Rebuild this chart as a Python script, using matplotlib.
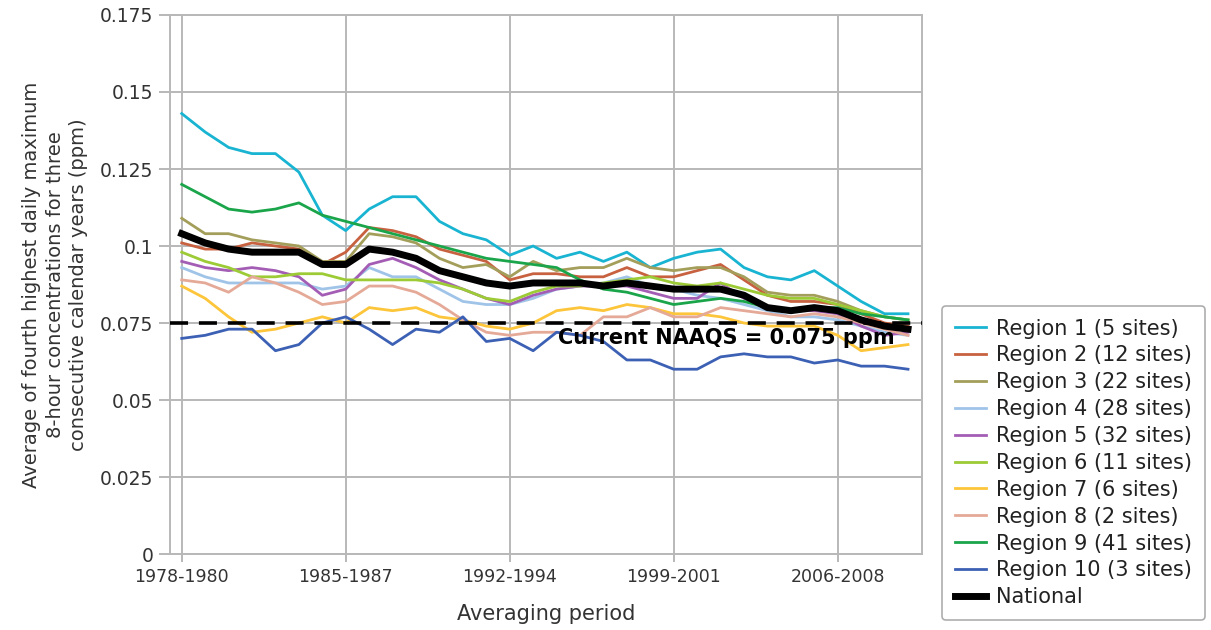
import matplotlib.pyplot as plt

# Three-year averaging periods, 1978-1980 through 2009-2011
start_years = list(range(1978, 2010))
periods = [f"{y}-{y + 2}" for y in start_years]

region1 = [0.143, 0.137, 0.132, 0.130, 0.130, 0.124, 0.110, 0.105, 0.112, 0.116,
           0.116, 0.108, 0.104, 0.102, 0.097, 0.100, 0.096, 0.098, 0.095, 0.098,
           0.093, 0.096, 0.098, 0.099, 0.093, 0.090, 0.089, 0.092, 0.087, 0.082,
           0.078, 0.078]
region2 = [0.101, 0.099, 0.099, 0.101, 0.100, 0.099, 0.094, 0.098, 0.106, 0.105,
           0.103, 0.099, 0.097, 0.095, 0.089, 0.091, 0.091, 0.090, 0.090, 0.093,
           0.090, 0.090, 0.092, 0.094, 0.089, 0.084, 0.082, 0.082, 0.081, 0.078,
           0.075, 0.074]
region3 = [0.109, 0.104, 0.104, 0.102, 0.101, 0.100, 0.095, 0.095, 0.104, 0.103,
           0.101, 0.096, 0.093, 0.094, 0.090, 0.095, 0.092, 0.093, 0.093, 0.096,
           0.093, 0.092, 0.093, 0.093, 0.090, 0.085, 0.084, 0.084, 0.082, 0.079,
           0.077, 0.076]
region4 = [0.093, 0.090, 0.088, 0.088, 0.088, 0.088, 0.086, 0.087, 0.093, 0.090,
           0.090, 0.086, 0.082, 0.081, 0.081, 0.083, 0.086, 0.087, 0.088, 0.090,
           0.087, 0.086, 0.084, 0.083, 0.081, 0.079, 0.077, 0.077, 0.076, 0.074,
           0.072, 0.071]
region5 = [0.095, 0.093, 0.092, 0.093, 0.092, 0.090, 0.084, 0.086, 0.094, 0.096,
           0.093, 0.089, 0.086, 0.083, 0.081, 0.084, 0.086, 0.087, 0.087, 0.087,
           0.085, 0.083, 0.083, 0.088, 0.083, 0.080, 0.079, 0.079, 0.078, 0.074,
           0.071, 0.072]
region6 = [0.098, 0.095, 0.093, 0.090, 0.090, 0.091, 0.091, 0.089, 0.089, 0.089,
           0.089, 0.088, 0.086, 0.083, 0.082, 0.085, 0.087, 0.087, 0.088, 0.089,
           0.090, 0.088, 0.087, 0.088, 0.086, 0.084, 0.083, 0.083, 0.081, 0.079,
           0.077, 0.076]
region7 = [0.087, 0.083, 0.077, 0.072, 0.073, 0.075, 0.077, 0.075, 0.080, 0.079,
           0.080, 0.077, 0.076, 0.074, 0.073, 0.075, 0.079, 0.080, 0.079, 0.081,
           0.080, 0.078, 0.078, 0.077, 0.075, 0.074, 0.074, 0.074, 0.071, 0.066,
           0.067, 0.068]
region8 = [0.089, 0.088, 0.085, 0.090, 0.088, 0.085, 0.081, 0.082, 0.087, 0.087,
           0.085, 0.081, 0.076, 0.072, 0.071, 0.072, 0.072, 0.071, 0.077, 0.077,
           0.080, 0.077, 0.077, 0.080, 0.079, 0.078, 0.077, 0.078, 0.077, 0.075,
           0.073, 0.071]
region9 = [0.120, 0.116, 0.112, 0.111, 0.112, 0.114, 0.110, 0.108, 0.106, 0.104,
           0.102, 0.100, 0.098, 0.096, 0.095, 0.094, 0.093, 0.089, 0.086, 0.085,
           0.083, 0.081, 0.082, 0.083, 0.082, 0.080, 0.079, 0.080, 0.080, 0.078,
           0.077, 0.076]
region10 = [0.070, 0.071, 0.073, 0.073, 0.066, 0.068, 0.075, 0.077, 0.073, 0.068,
            0.073, 0.072, 0.077, 0.069, 0.070, 0.066, 0.072, 0.071, 0.069, 0.063,
            0.063, 0.060, 0.060, 0.064, 0.065, 0.064, 0.064, 0.062, 0.063, 0.061,
            0.061, 0.060]
national = [0.104, 0.101, 0.099, 0.098, 0.098, 0.098, 0.094, 0.094, 0.099, 0.098,
            0.096, 0.092, 0.090, 0.088, 0.087, 0.088, 0.088, 0.088, 0.087, 0.088,
            0.087, 0.086, 0.086, 0.086, 0.084, 0.080, 0.079, 0.080, 0.079, 0.076,
            0.074, 0.073]

region_names = ["Region 1 (5 sites)", "Region 2 (12 sites)", "Region 3 (22 sites)",
                "Region 4 (28 sites)", "Region 5 (32 sites)", "Region 6 (11 sites)",
                "Region 7 (6 sites)", "Region 8 (2 sites)", "Region 9 (41 sites)",
                "Region 10 (3 sites)"]
region_series = [region1, region2, region3, region4, region5, region6,
                 region7, region8, region9, region10]
region_colors = ["#19b4d1", "#c7613f", "#a49e5b", "#9fc4e8", "#a45db5",
                 "#9ccb35", "#fcc53a", "#e5a997", "#1ba54b", "#3c60b4"]

naaqs = 0.075

plt.rcParams['font.family'] = ['DejaVu Sans']

fig = plt.figure(figsize=(12.11, 6.3), dpi=100)
ax = fig.add_axes([0.1404, 0.1206, 0.6210, 0.8556])

x = list(range(len(periods)))
for name, vals, col in zip(region_names, region_series, region_colors):
    ax.plot(x, vals, color=col, linewidth=2.0, label=name, zorder=3)

ax.axhline(naaqs, color='black', linewidth=2.6, linestyle=(0, (5, 3)), zorder=4)
ax.plot(x, national, color='black', linewidth=5, label='National', zorder=5)
ax.text(16.05, 0.0702, 'Current NAAQS = 0.075 ppm', fontsize=15,
        fontweight='bold', va='center', ha='left', zorder=6)

ax.set_xlim(-0.5, 31.6)
ax.set_ylim(0, 0.175)
ax.set_yticks([0, 0.025, 0.05, 0.075, 0.1, 0.125, 0.15, 0.175])
ax.set_yticklabels(['0', '0.025', '0.05', '0.075', '0.1', '0.125', '0.15', '0.175'])
ax.set_xticks(x[::7])
ax.set_xticklabels(periods[::7])

ax.grid(True, color='#b8b8b8', linewidth=1.4)
ax.set_axisbelow(True)
for side in ['left', 'right', 'top', 'bottom']:
    ax.spines[side].set_color('#b8b8b8')
    ax.spines[side].set_linewidth(1.4)
ax.tick_params(axis='y', colors='#b8b8b8', labelcolor='#333333', length=8,
               width=1.4, labelsize=13.5, pad=4)
ax.tick_params(axis='x', colors='#b8b8b8', labelcolor='#333333', length=6,
               width=1.4, labelsize=12.5, pad=4)

ax.set_ylabel('Average of fourth highest daily maximum\n'
              '8-hour concentrations for three\n'
              'consecutive calendar years (ppm)',
              fontsize=14, color='#333333', multialignment='center',
              linespacing=1.3)
ax.yaxis.set_label_coords(-0.109, 0.5)
ax.set_xlabel('Averaging period', fontsize=15, color='#333333')
ax.xaxis.set_label_coords(0.5, -0.093)

leg = fig.legend(loc='upper left', bbox_to_anchor=(942 / 1211, 1 - 306 / 630),
                 fontsize=15, frameon=True, fancybox=True, handlelength=1.5,
                 handletextpad=0.5, labelspacing=0.33, borderpad=0.6,
                 borderaxespad=0)
leg.get_frame().set_edgecolor('#999999')
leg.get_frame().set_linewidth(1.2)
for t in leg.get_texts():
    t.set_color('#222222')

fig.savefig('out.png', dpi=100)
